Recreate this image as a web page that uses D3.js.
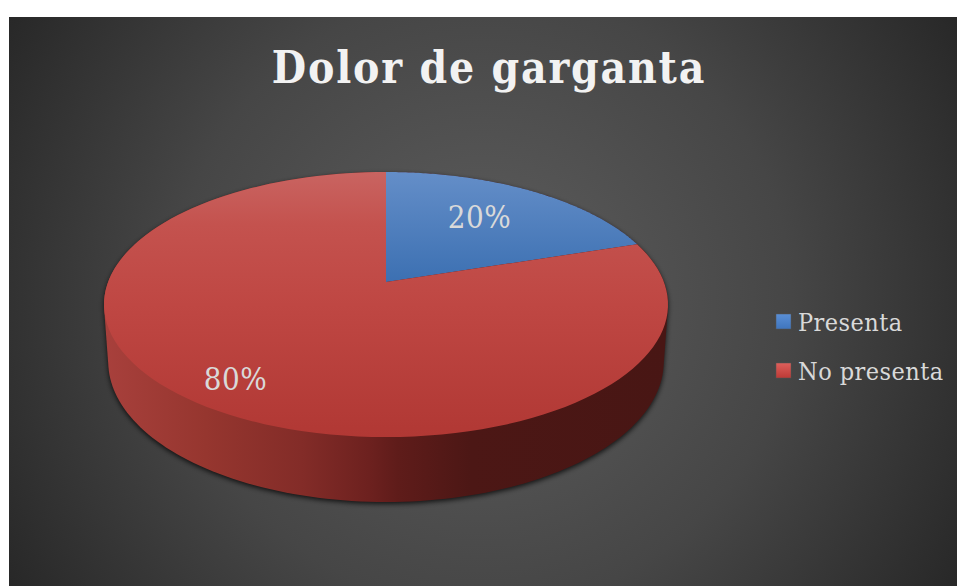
<!DOCTYPE html>
<html><head><meta charset="utf-8">
<script src="https://cdn.jsdelivr.net/npm/d3@7"></script>
<style>html,body{margin:0;padding:0;background:#fff}svg{display:block}</style>
</head><body><div id="chart"></div>
<script>
const categories = ["Presenta", "No presenta"];
const shares = [20, 80];
const chartTitle = "Dolor de garganta";
const blueTopStops = [[0, "#648ec8"], [1, "#3c70b2"]];
const redTopStops = [[0, "#c96461"], [0.2, "#c4524e"], [0.5, "#bf4743"], [1, "#b13834"]];
const legendColors = [["#5a8fd6", "#3f75bd"], ["#de5f5b", "#bd3a36"]];
const sideStops = [[0, "#a8403c"], [0.18, "#96362f"], [0.35, "#832c28"], [0.47, "#6d211f"], [0.52, "#5f1c1a"], [0.65, "#4c1715"], [1, "#481614"]];
const serif = "'DejaVu Serif Condensed','DejaVu Serif'";

const W = 957, H = 586;
const svg = d3.select("#chart").append("svg").attr("width", W).attr("height", H);
const defs = svg.append("defs");

// Panel background
const bg = defs.append("radialGradient").attr("id", "bg")
  .attr("gradientUnits", "userSpaceOnUse").attr("cx", 483).attr("cy", 300).attr("r", 560);
bg.append("stop").attr("offset", 0).attr("stop-color", "#5e5e5e");
bg.append("stop").attr("offset", 0.55).attr("stop-color", "#464646");
bg.append("stop").attr("offset", 1).attr("stop-color", "#272727");
svg.append("rect").attr("x", 9).attr("y", 17).attr("width", W - 9).attr("height", H - 17).attr("fill", "url(#bg)");

// Perspective projection of the disc: theta runs clockwise from the back, h is depth below the top face
const cx = 386, cy = 282, k = 0.17, A = 128.7, B = 277.9, C = 57.2, m = 0.015;
const project = (r, theta, h = 0) => {
  const x = r * Math.sin(theta), z = r * Math.cos(theta);
  const w = 1 + k * z + m * h;
  return [cx + B * x / w, cy - (A * z - C * h) / w];
};
const rim = (a0, a1, h) => d3.range(0, 121).map(i => project(1, a0 + (a1 - a0) * i / 120, h));

const pie = d3.pie().sort(null).value(d => d);
const arcs = pie(shares);

// Gradients for the top face, legend swatches and side wall
const vgrad = (id, stops, span) => {
  const g = defs.append("linearGradient").attr("id", id).attr("gradientUnits", span ? "userSpaceOnUse" : "objectBoundingBox")
    .attr("x1", 0).attr("y1", span ? span[0] : 0).attr("x2", 0).attr("y2", span ? span[1] : 1);
  stops.forEach(([o, c]) => g.append("stop").attr("offset", o).attr("stop-color", c));
};
vgrad("top0", blueTopStops, [172, 282]);
vgrad("top1", redTopStops, [172, 437]);
legendColors.forEach((c, i) => vgrad("leg" + i, [[0, c[0]], [1, c[1]]]));
const sideGrad = defs.append("linearGradient").attr("id", "side").attr("gradientUnits", "userSpaceOnUse")
  .attr("x1", 104).attr("x2", 668).attr("y1", 0).attr("y2", 0);
sideStops.forEach(([o, c]) => sideGrad.append("stop").attr("offset", o).attr("stop-color", c));
const blur = defs.append("filter").attr("id", "soft").attr("x", "-10%").attr("y", "-10%").attr("width", "120%").attr("height", "120%");
blur.append("feGaussianBlur").attr("stdDeviation", 2.5);

const line = d3.line();
const closed = pts => line(pts) + "Z";

// Outer silhouette of the solid: drop shadow, then side wall
const full = d3.range(0, 240).map(i => i / 240 * 2 * Math.PI);
const hull = d3.polygonHull(full.flatMap(t => [project(1, t, 0), project(1, t, 1)]));
svg.append("path").attr("d", closed(hull)).attr("fill", "#000").attr("opacity", 0.75)
  .attr("transform", "translate(0,2)").attr("filter", "url(#soft)");
svg.append("path").attr("d", closed(hull)).attr("fill", "url(#side)");

// Top face slices
svg.append("g").selectAll("path").data(arcs).join("path")
  .attr("d", d => closed([[cx, cy], ...rim(d.startAngle, d.endAngle, 0)]))
  .attr("fill", (d, i) => `url(#top${i})`);

// Title
svg.append("text").attr("x", 489).attr("y", 83).attr("text-anchor", "middle")
  .attr("font-family", serif).attr("font-weight", 700).attr("font-size", 44)
  .attr("letter-spacing", 1.8).attr("fill", "#f2f2f2").text(chartTitle);

// Percent labels
const labelPos = [[479.5, 228], [235.5, 390]];
svg.append("g").selectAll("text").data(shares).join("text")
  .attr("x", (d, i) => labelPos[i][0]).attr("y", (d, i) => labelPos[i][1]).attr("text-anchor", "middle")
  .attr("font-family", serif).attr("font-size", 31).attr("letter-spacing", 0.5).attr("fill", "#d9d9d9")
  .text(d => d + "%");

// Legend
const legendY = d3.scaleOrdinal().domain(categories).range([322, 371]);
const legend = svg.append("g").selectAll("g").data(categories).join("g")
  .attr("transform", d => `translate(0,${legendY(d)})`);
legend.append("rect").attr("x", 776).attr("y", -8).attr("width", 15).attr("height", 15)
  .attr("fill", (d, i) => `url(#leg${i})`).attr("stroke", "#555").attr("stroke-width", 0.5);
legend.append("text").attr("x", 798).attr("y", 9)
  .attr("font-family", serif).attr("font-size", 25).attr("letter-spacing", 0.45).attr("fill", "#d9d9d9").text(d => d);
</script></body></html>
